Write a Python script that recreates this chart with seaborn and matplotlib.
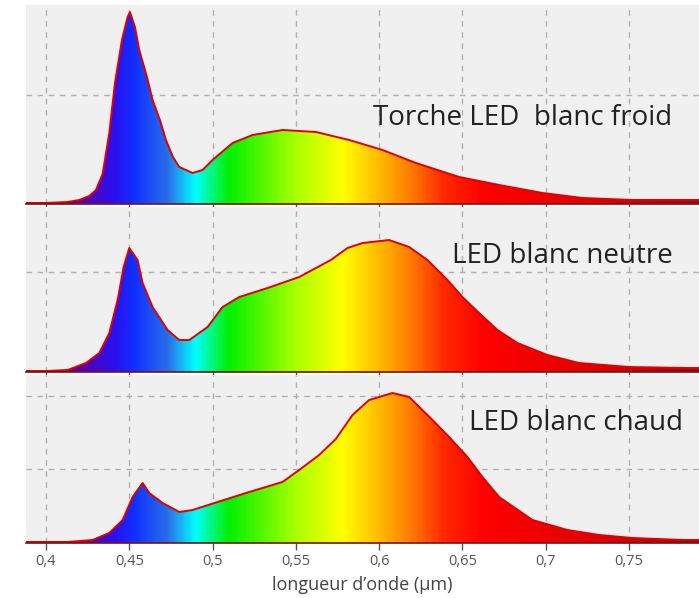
import numpy as np
import matplotlib
matplotlib.use("Agg")
import matplotlib.pyplot as plt
import seaborn as sns
from matplotlib.colors import LinearSegmentedColormap
from matplotlib.patches import Polygon

# wavelength (um) and relative intensity
wl_froid = [0.388, 0.400, 0.413, 0.420, 0.426, 0.430, 0.434, 0.438, 0.4414, 0.4456,
            0.449, 0.4504, 0.4534, 0.456, 0.4606, 0.464, 0.4684, 0.472, 0.4762, 0.480,
            0.488, 0.494, 0.500, 0.512, 0.524, 0.542, 0.562, 0.582, 0.602, 0.622,
            0.648, 0.672, 0.698, 0.722, 0.752, 0.782, 0.792]
i_froid = [1, 1, 2, 4, 8, 14, 30, 71, 121, 164,
           187, 192, 177, 154, 127, 104, 84, 64, 47, 37,
           31, 34, 44, 61, 69, 74, 72, 64, 54, 41,
           27, 19, 11, 6, 4, 4, 4]

wl_neutre = [0.388, 0.400, 0.413, 0.424, 0.432, 0.438, 0.443, 0.4466, 0.450, 0.455,
             0.458, 0.464, 0.473, 0.480, 0.486, 0.497, 0.506, 0.516, 0.533, 0.552,
             0.571, 0.581, 0.590, 0.606, 0.618, 0.629, 0.641, 0.650, 0.660, 0.671,
             0.683, 0.701, 0.720, 0.750, 0.786, 0.792]
i_neutre = [1, 1, 2, 9, 19, 39, 72, 105, 124, 112,
            89, 65, 42, 32, 32, 45, 65, 75, 84, 95,
            112, 124, 129, 132, 125, 112, 92, 75, 59, 42,
            29, 17, 9, 5, 4, 4]

wl_chaud = [0.388, 0.400, 0.413, 0.428, 0.438, 0.446, 0.452, 0.458, 0.462, 0.470,
            0.480, 0.488, 0.503, 0.522, 0.542, 0.552, 0.564, 0.574, 0.584, 0.594,
            0.608, 0.618, 0.632, 0.642, 0.653, 0.662, 0.672, 0.692, 0.713, 0.732,
            0.752, 0.782, 0.792]
i_chaud = [1, 1, 1, 3, 10, 23, 46, 60, 50, 40,
           31, 33, 41, 51, 61, 73, 88, 104, 128, 143,
           150, 146, 123, 106, 86, 66, 46, 23, 13, 8,
           5, 3, 3]

labels = ["Torche LED  blanc froid", "LED blanc neutre", "LED blanc chaud"]
x_ticks = [0.40, 0.45, 0.50, 0.55, 0.60, 0.65, 0.70, 0.75]
x_ticklabels = ["0,4", "0,45", "0,5", "0,55", "0,6", "0,65", "0,7", "0,75"]
x_label = "longueur d\u2019onde (\u00b5m)"

spectra = [(wl_froid, i_froid), (wl_neutre, i_neutre), (wl_chaud, i_chaud)]

sns.set_theme(style="white")
plt.rcParams["font.family"] = ["Open Sans", "DejaVu Sans"]

# visible spectrum colours
spec_cmap = LinearSegmentedColormap.from_list("spectre", [
    (0.000, "#3a0060"), (0.080, "#5a00b0"), (0.130, "#2a10f0"), (0.160, "#1030ff"),
    (0.210, "#2a70e8"), (0.250, "#00ffff"), (0.300, "#00f000"), (0.400, "#a8ff00"),
    (0.470, "#ffff00"), (0.530, "#ffb400"), (0.580, "#ff7000"), (0.620, "#ff2a00"),
    (0.680, "#ff0000"), (0.850, "#e00000"), (1.000, "#a00010")])

x_lim = (0.388, 0.792)
# panel rectangles (figure fractions), y extent, grid rows, label baseline
panels = [
    ([0.0372, 0.6589, 0.9628, 0.3327], 199, [109], 79),
    ([0.0372, 0.3779, 0.9628, 0.2759], 165, [100], 109),
    ([0.0372, 0.0920, 0.9628, 0.2809], 168, [73.5, 147], 113),
]
label_x = [0.7756, 0.7762, 0.7822]

fig = plt.figure(figsize=(6.99, 5.98), dpi=100)
grad = np.linspace(0, 1, 600).reshape(1, -1)

for k, ((rect, ymax, ygrid, ytext), (wl, inten)) in enumerate(zip(panels, spectra)):
    ax = fig.add_axes(rect)
    ax.set_facecolor("#f0f0f0")
    ax.set_xlim(*x_lim)
    ax.set_ylim(0, ymax)

    im = ax.imshow(grad, cmap=spec_cmap, aspect="auto",
                   extent=[x_lim[0], x_lim[1], 0, ymax], zorder=2)
    poly = Polygon(np.column_stack([[wl[0]] + list(wl) + [wl[-1]],
                                    [0] + list(inten) + [0]]),
                   closed=True, transform=ax.transData, facecolor="none", edgecolor="none")
    ax.add_patch(poly)
    im.set_clip_path(poly)

    sns.lineplot(x=wl, y=inten, ax=ax, color="#e00000", linewidth=1.4, sort=False,
                 zorder=3)

    ax.set_xticks(x_ticks)
    ax.set_yticks(ygrid)
    ax.set_yticklabels([])
    ax.grid(True, color="#b0b0b0", linestyle=(0, (4, 4)), linewidth=1.0, zorder=1)
    ax.set_axisbelow(True)
    for s in ["top", "left", "right"]:
        ax.spines[s].set_visible(False)
    ax.spines["bottom"].set_color("#7a1010")
    ax.spines["bottom"].set_linewidth(1.2)
    ax.spines["bottom"].set_zorder(4)
    ax.tick_params(axis="x", direction="out", length=5, width=1, color="#555555",
                   bottom=True, labelsize=10.5, labelcolor="#555555", pad=3)
    ax.tick_params(axis="y", length=0)
    if k < 2:
        ax.set_xticklabels([])
    else:
        ax.set_xticklabels(x_ticklabels)
        ax.set_xlabel(x_label, fontsize=13, color="#444444", labelpad=5)

    ax.text(label_x[k], ytext, labels[k], ha="right", va="baseline",
            fontsize=20, color="#222222", zorder=5)

fig.savefig("out.png", dpi=100, facecolor="white")
